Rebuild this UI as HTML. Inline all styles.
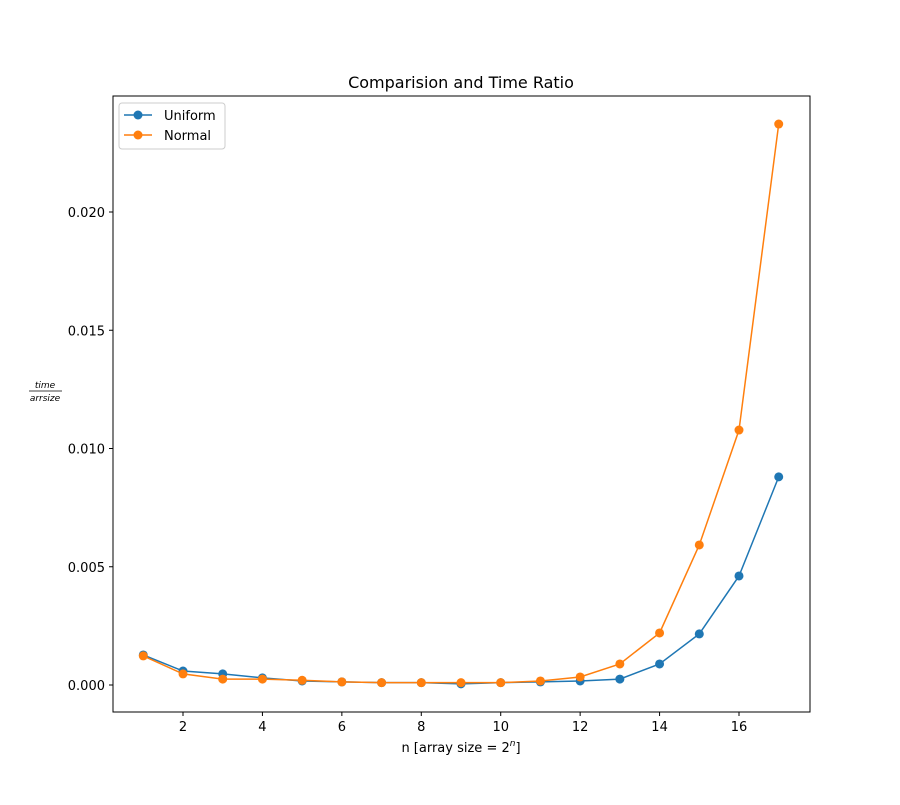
<!DOCTYPE html>
<html><head><meta charset="utf-8"><style>
body{margin:0;background:#fff;}
svg text{font-family:"DejaVu Sans","Liberation Sans",sans-serif;}
</style></head><body>
<svg id="chart" width="900" height="800" xmlns="http://www.w3.org/2000/svg">
<rect width="900" height="800" fill="#fff"/>
<text x="461" y="88" font-size="16" text-anchor="middle">Comparision and Time Ratio</text>
<g id="grid"></g>
<g id="series"></g>
<rect x="113" y="96" width="697" height="616" fill="none" stroke="#000" stroke-width="1"/>
<text x="461" y="752" font-size="13" text-anchor="middle">n [array size = 2<tspan font-style="italic" font-size="9" dy="-6">n</tspan><tspan dy="6">]</tspan></text>
<g>
<text x="45" y="388" font-size="9" font-style="italic" text-anchor="middle">time</text>
<line x1="29" y1="391" x2="62" y2="391" stroke="#000" stroke-width="0.8"/>
<text x="45" y="401" font-size="9" font-style="italic" text-anchor="middle">arrsize</text>
</g>
<g>
<rect x="119" y="103" width="106" height="46" rx="3" fill="#fff" stroke="#ccc"/>
<line x1="124" y1="115" x2="152" y2="115" stroke="#1f77b4" stroke-width="1.5"/>
<circle cx="138" cy="115" r="4.5" fill="#1f77b4"/>
<text x="164" y="120" font-size="13">Uniform</text>
<line x1="124" y1="135" x2="152" y2="135" stroke="#ff7f0e" stroke-width="1.5"/>
<circle cx="138" cy="135" r="4.5" fill="#ff7f0e"/>
<text x="164" y="140" font-size="13">Normal</text>
</g>
</svg>
<script>
const nValues=[1,2,3,4,5,6,7,8,9,10,11,12,13,14,15,16,17];
const uniformValues=[0.00127,0.00059,0.00047,0.0003,0.00017,0.00013,0.0001,0.0001,0.00005,0.0001,0.00013,0.00017,0.00025,0.00089,0.00216,0.00461,0.0088];
const normalValues=[0.00123,0.00047,0.00025,0.00025,0.0002,0.00013,0.0001,0.0001,0.0001,0.0001,0.00017,0.00034,0.00089,0.0022,0.00592,0.01078,0.02372];
const xTicks=[2,4,6,8,10,12,14,16];
const yTicks=[0,0.005,0.01,0.015,0.02];
const yTickLabels=["0.000","0.005","0.010","0.015","0.020"];
const NS="http://www.w3.org/2000/svg";
function xs(v){return 183+(v-2)*(739-183)/14;}
function ys(v){return 685-v*(685-212)/0.02;}
function mk(t,a,p){const e=document.createElementNS(NS,t);for(const k in a)e.setAttribute(k,a[k]);p.appendChild(e);return e;}
const g=document.getElementById('grid');
xTicks.forEach(t=>{
 const l=mk('line',{x1:xs(t),x2:xs(t),y1:712,y2:716,stroke:'#000'},g);
 
 
 const tx=mk('text',{x:xs(t),y:731,'font-size':13,'text-anchor':'middle'},g);
 tx.textContent=t;
 
 
});
yTicks.forEach((t,i)=>{
 const l=mk('line',{x1:109,x2:113,y1:ys(t),y2:ys(t),stroke:'#000'},g);
 
 
 const tx=mk('text',{x:105,y:ys(t)+5,'font-size':13,'text-anchor':'end'},g);
 tx.textContent=yTickLabels[i];
 
 
});
const s=document.getElementById('series');
[[uniformValues,'#1f77b4','uniform'],[normalValues,'#ff7f0e','normal']].forEach(([vals,c,name])=>{
 const pts=vals.map((v,i)=>xs(nValues[i])+','+ys(v)).join(' ');
 const pl=mk('polyline',{points:pts,fill:'none',stroke:c,'stroke-width':1.5},s);
 
 
 vals.forEach((v,i)=>{
  const ci=mk('circle',{cx:xs(nValues[i]),cy:ys(v),r:4.5,fill:c},s);
  
  
 });
});
</script>
</body></html>
